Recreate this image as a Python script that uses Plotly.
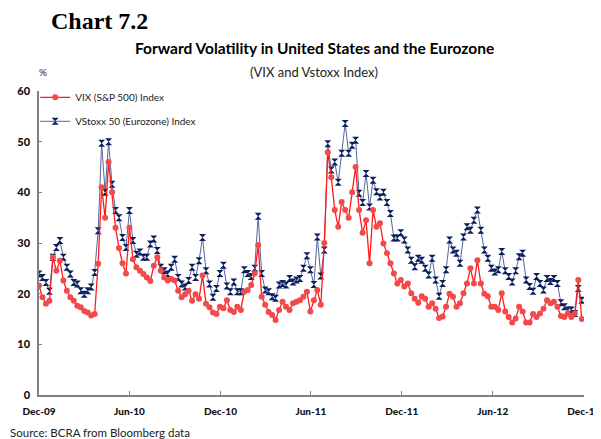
import pandas as pd
import plotly.graph_objects as go

WEEK_START = "2009-12-01"

VIX = [
    21.6, 19.3, 18.0, 18.6, 27.2, 24.5, 26.5, 22.6, 20.6, 19.3,
    18.6, 17.6, 17.3, 16.6, 16.3, 15.7, 16.0, 25.9, 41.0, 35.0,
    46.0, 40.0, 33.0, 29.0, 26.0, 24.0, 33.0, 26.8, 25.2, 24.5,
    23.9, 23.2, 22.5, 25.5, 27.2, 24.5, 23.2, 22.6, 22.9, 22.6,
    20.6, 19.3, 19.9, 20.6, 18.6, 19.9, 19.0, 23.6, 18.0, 17.3,
    16.3, 16.0, 17.4, 17.1, 18.7, 16.8, 16.4, 17.4, 16.8, 20.4,
    20.7, 21.7, 24.0, 29.6, 19.4, 17.8, 16.4, 15.8, 14.8, 16.8,
    18.4, 17.4, 16.8, 18.1, 18.4, 18.7, 19.4, 20.4, 16.5, 18.7,
    20.7, 17.8, 30.0, 47.9, 43.0, 36.5, 33.2, 38.1, 36.5, 35.0,
    40.0, 45.0, 36.5, 32.0, 34.5, 26.0, 36.5, 33.2, 33.9, 29.9,
    28.0, 26.0, 24.0, 22.0, 22.7, 21.4, 22.0, 20.1, 19.0, 18.2,
    19.5, 19.0, 17.4, 18.1, 17.0, 15.2, 15.5, 17.4, 20.0, 19.4,
    17.4, 18.1, 20.1, 22.0, 25.0, 22.0, 26.6, 22.0, 20.0, 19.5,
    17.4, 17.4, 16.8, 20.1, 16.5, 15.4, 14.3, 15.1, 17.4, 16.5,
    14.3, 14.3, 16.0, 15.4, 16.1, 17.0, 18.7, 18.1, 18.4, 17.4,
    15.6, 15.4, 16.1, 15.4, 16.1, 22.7, 15.0,
]

VSTOXX = [
    23.9, 23.2, 22.2, 20.5, 27.2, 29.1, 30.5, 27.2, 25.2, 23.9,
    22.2, 21.9, 20.6, 19.9, 20.6, 21.3, 24.2, 32.4, 49.7, 40.0,
    50.0, 41.6, 36.4, 35.0, 31.1, 29.1, 36.4, 30.5, 27.8, 28.2,
    27.2, 27.2, 29.8, 30.8, 28.5, 25.2, 24.5, 23.9, 25.2, 26.8,
    23.2, 21.9, 21.3, 22.6, 25.2, 23.2, 26.5, 31.1, 24.5, 21.9,
    19.3, 21.0, 24.0, 25.6, 21.5, 20.4, 22.3, 20.4, 20.4, 24.7,
    24.0, 23.4, 25.0, 35.3, 24.0, 20.7, 20.4, 19.4, 19.1, 21.7,
    22.0, 21.7, 23.0, 22.3, 22.7, 23.0, 25.0, 27.5, 24.7, 21.8,
    31.2, 23.5, 28.6, 49.6, 44.4, 46.0, 42.0, 47.7, 53.6, 47.7,
    49.3, 50.3, 39.8, 38.0, 43.7, 37.1, 42.4, 40.1, 39.1, 40.0,
    38.0, 35.8, 31.0, 31.0, 32.0, 30.6, 28.6, 26.6, 25.3, 27.0,
    26.6, 25.0, 23.7, 27.0, 22.7, 19.5, 22.0, 24.7, 30.6, 28.6,
    28.0, 26.0, 31.2, 33.2, 32.5, 34.5, 36.5, 32.5, 28.6, 27.0,
    25.0, 24.3, 24.7, 28.3, 24.5, 23.4, 22.3, 24.5, 27.3, 28.0,
    22.7, 21.4, 20.5, 23.4, 22.0, 20.7, 23.0, 22.4, 23.0, 22.0,
    18.2, 17.4, 16.8, 16.8, 16.1, 21.0, 18.7,
]

TICK_DATES = ["2009-12-01", "2010-06-01", "2010-12-01", "2011-06-01",
              "2011-12-01", "2012-06-01", "2012-12-01"]
TICK_LABELS = ["Dec-09", "Jun-10", "Dec-10", "Jun-11", "Dec-11", "Jun-12", "Dec-12"]

dates = pd.date_range(WEEK_START, periods=len(VIX), freq="7D")

FONT = "Lato"
AXIS_GREY = "#808080"

fig = go.Figure()
fig.add_trace(go.Scatter(
    x=dates, y=VSTOXX, mode="lines+markers", name="VStoxx 50 (Eurozone) Index",
    line=dict(color="#55669a", width=1),
    marker=dict(symbol="hourglass", size=7, color="#0b1f5c"),
    legendgroup="b", legendrank=2,
))
fig.add_trace(go.Scatter(
    x=dates, y=VIX, mode="lines+markers", name="VIX (S&P 500) Index",
    line=dict(color="#ff1a1a", width=1.3),
    marker=dict(symbol="circle", size=6, color="#f24a4a"),
    legendgroup="a", legendrank=1,
))

# the page body adds an 8px margin, so the figure is 8px smaller on both axes
fig.update_layout(
    width=593, height=431,
    margin=dict(l=31, r=17, t=83, b=44),
    paper_bgcolor="white", plot_bgcolor="white",
    font=dict(family=FONT, color="#111111"),
    showlegend=True,
    legend=dict(x=-0.007, y=1.027, xanchor="left", yanchor="top",
                font=dict(size=10, color="#222222"), bgcolor="rgba(0,0,0,0)",
                itemwidth=30, tracegroupgap=5),
)
fig.update_xaxes(
    range=["2009-12-01", "2012-12-01 12:00"], tickvals=TICK_DATES, ticktext=TICK_LABELS,
    showgrid=False, zeroline=False, showline=True, linecolor=AXIS_GREY, linewidth=1.5,
    ticks="inside", ticklen=4, tickcolor=AXIS_GREY, ticklabeloverflow="allow",
    automargin=False,
    tickfont=dict(size=10, family="Lato Black, Lato", color="#111111"), ticklabelstandoff=6,
)
fig.update_yaxes(
    range=[0, 60], dtick=10, showgrid=False, zeroline=False,
    showline=True, linecolor=AXIS_GREY, linewidth=1.5,
    ticks="inside", ticklen=3, tickcolor=AXIS_GREY, automargin=False,
    tickfont=dict(size=11, family="Lato Black, Lato", color="#111111"), ticklabelstandoff=5,
)

# annotation positions: page pixels converted to plot-area fractions
PX0, PW, PY0, PH = 39, 545, 395, 304
fig.add_annotation(text="<b>Chart 7.2</b>", xref="paper", yref="paper",
                   x=(49 - PX0) / PW, y=(PY0 - 21) / PH, xanchor="left", yanchor="middle",
                   showarrow=False, font=dict(family="Liberation Serif", size=24, color="black"))
fig.add_annotation(text="<b>Forward Volatility in United States and the Eurozone</b>",
                   xref="paper", yref="paper", x=(314 - PX0) / PW, y=(PY0 - 48) / PH,
                   xanchor="center", yanchor="middle", showarrow=False,
                   font=dict(size=15.5, color="black"))
fig.add_annotation(text="(VIX and Vstoxx Index)", xref="paper", yref="paper",
                   x=(314 - PX0) / PW, y=(PY0 - 72) / PH, xanchor="center", yanchor="middle",
                   showarrow=False, font=dict(size=13, color="#222222"))
fig.add_annotation(text="%", xref="paper", yref="paper",
                   x=(43 - PX0) / PW, y=(PY0 - 72) / PH, xanchor="center", yanchor="middle",
                   showarrow=False, font=dict(size=10, color="#222222"))
fig.add_annotation(text="Source: BCRA from Bloomberg data", xref="paper", yref="paper",
                   x=(8 - PX0) / PW, y=(PY0 - 432) / PH, xanchor="left", yanchor="middle",
                   showarrow=False, font=dict(size=11.5, color="#222222"))

fig.write_html("out.html")
